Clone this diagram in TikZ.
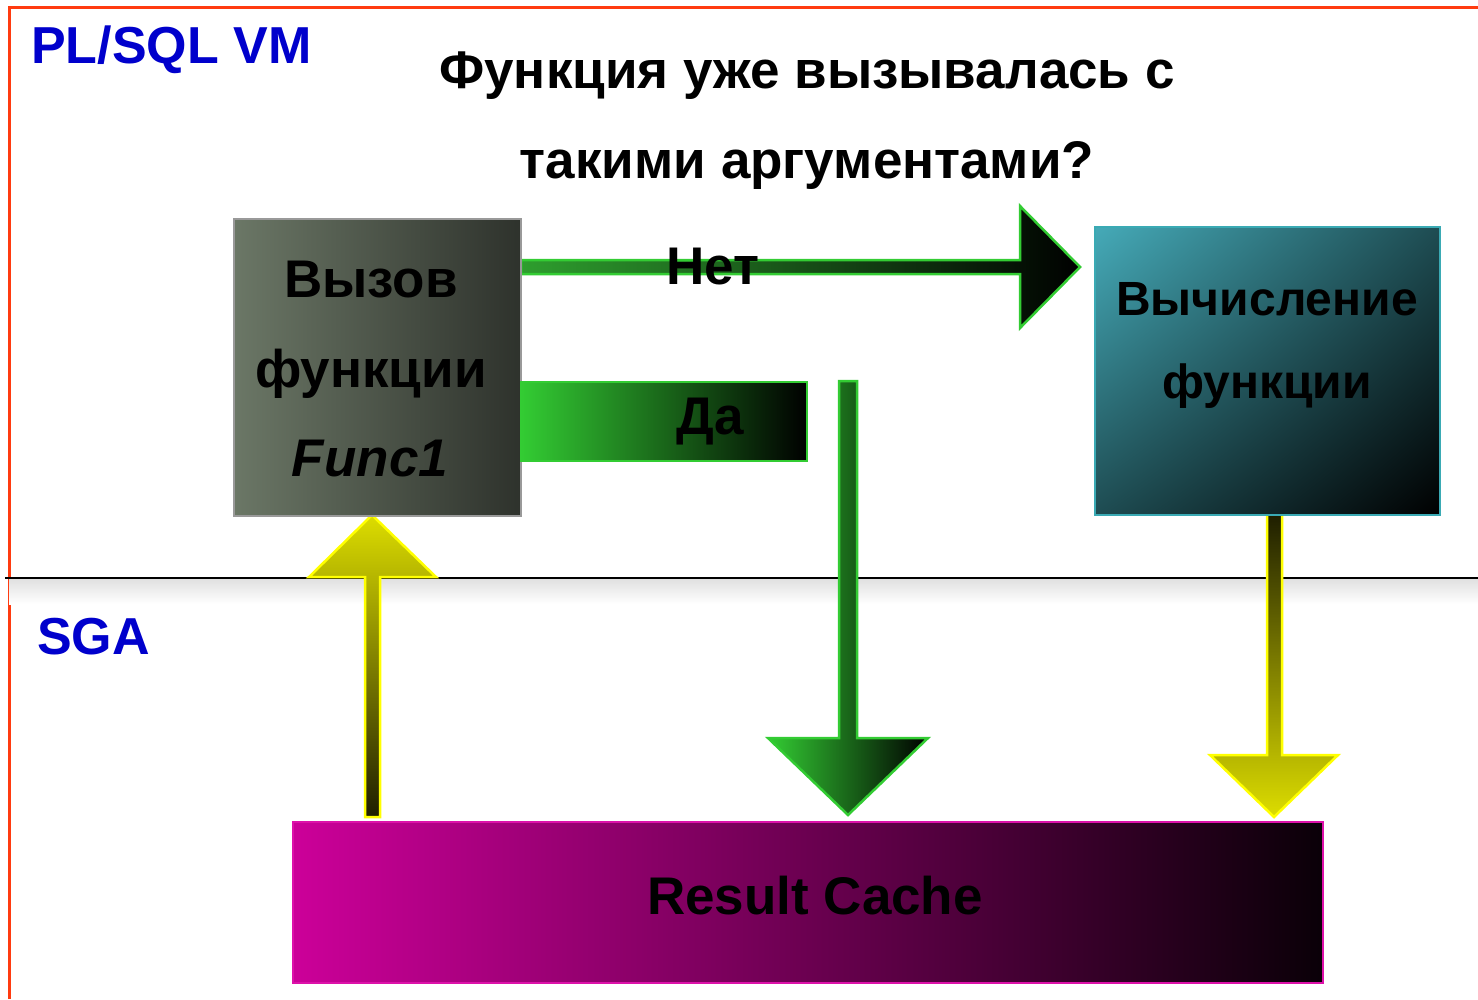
\documentclass[tikz,border=0pt]{standalone}
\usepackage{fontspec}
\setmainfont{Liberation Sans}
\usetikzlibrary{shadings}
\definecolor{framecol}{HTML}{FF3B10}
\definecolor{hdrblue}{HTML}{0000CC}
\definecolor{grn}{HTML}{33CC33}
\definecolor{grnmid}{HTML}{2E9E2E}
\definecolor{ylw}{HTML}{FFFF00}
\definecolor{ylwhi}{HTML}{DDDD00}
\definecolor{ylwdk}{HTML}{1E1E00}
\definecolor{grayL}{HTML}{6B7766}
\definecolor{grayR}{HTML}{2E322C}
\definecolor{tealL}{HTML}{45AAB8}
\definecolor{tealM}{HTML}{1E4C52}
\definecolor{tealB}{HTML}{3AAAB4}
\definecolor{mag}{HTML}{CC0099}
\definecolor{magB}{HTML}{DD11AA}
\begin{document}
\begin{tikzpicture}[x=1pt,y=-1pt,
  hdr/.style={font=\bfseries\fontsize{52}{60}\selectfont, text=hdrblue, inner sep=0, anchor=base west},
  ttl/.style={font=\bfseries\fontsize{53}{60}\selectfont, inner sep=0, anchor=base},
  lbl/.style={font=\bfseries\fontsize{53}{60}\selectfont, inner sep=0, anchor=base},
  lbl2/.style={font=\bfseries\fontsize{48}{56}\selectfont, inner sep=0, anchor=base},
  boxbase/.style={rectangle, inner sep=0, outer sep=0, line width=2.5},
  callbox/.style={boxbase, draw=gray!80, left color=grayL, right color=grayR, minimum width=287, minimum height=297},
  calcbox/.style={boxbase, draw=tealB, upper left=tealL, upper right=tealM, lower left=tealM, lower right=black, minimum width=345, minimum height=288},
  cachebox/.style={boxbase, draw=magB, left color=mag, right color=black!95!mag, minimum width=1030, minimum height=161},
  dabox/.style={boxbase, draw=grn, left color=grn, right color=black, minimum width=286, minimum height=79},
  garrow/.style={draw=grn, line width=2.5, line join=miter},
  yarrow/.style={draw=ylw, line width=2.5, line join=miter}
]
\useasboundingbox (0,0) rectangle (1478,999);
\fill[white] (0,0) rectangle (1478,999);
% frame
\draw[framecol, line width=2.5] (9.5,999) -- (9.5,7.5) -- (1478,7.5);
% divider with soft shadow
\shade[top color=black!12, bottom color=white] (9,579) rectangle (1478,604);
\coordinate (divL) at (5,578);
\coordinate (divR) at (1478,578);
\draw[line width=2] (divL) -- (divR);

% headers
\node[hdr] (vm) at (31,63) {PL/SQL VM};
\node[hdr] (sga) at (37,654) {SGA};
\node[ttl] (q1) at (807,88) {Функция уже вызывалась с};
\node[ttl] (q2) at (807,178) {такими аргументами?};

% arrows (drawn under the boxes)
\path[garrow, left color=grnmid, right color=black] (521,260) -- (1020,260) -- (1020,206) -- (1080,267) -- (1020,328) -- (1020,274) -- (521,274) -- cycle;
\path[garrow, left color=grn, right color=black] (839,381) -- (857,381) -- (857,738) -- (928,738) -- (848,815) -- (768,738) -- (839,738) -- cycle;
\path[yarrow, top color=ylwhi, bottom color=ylwdk] (365,817) -- (365,577) -- (309,577) -- (372,515) -- (436,577) -- (380,577) -- (380,817) -- cycle;
\path[yarrow, top color=ylwdk, bottom color=ylwhi] (1267,514) -- (1282,514) -- (1282,755) -- (1338,755) -- (1274,817) -- (1210,755) -- (1267,755) -- cycle;

% boxes
\node[callbox] (call) at (377.5,367.5) {};
\node[calcbox] (calc) at (1267.5,371) {};
\node[cachebox] (cache) at (808,902.5) {};
\node[dabox] (da) at (664,421.5) {};

% texts
\node[lbl] (t1) at (371,297) {Вызов};
\node[lbl] (t2) at (371,387) {функции};
\node[lbl] (t3) at (370,476) {\itshape Func1};
\node[lbl2] (t4) at (1267,315) {Вычисление};
\node[lbl2] (t5) at (1267,398) {функции};
\node[lbl] (t6) at (815,914) {Result Cache};
\node[lbl] (net) at (713,284) {Нет};
\node[lbl] (dat) at (710,434) {Да};
\end{tikzpicture}
\end{document}
